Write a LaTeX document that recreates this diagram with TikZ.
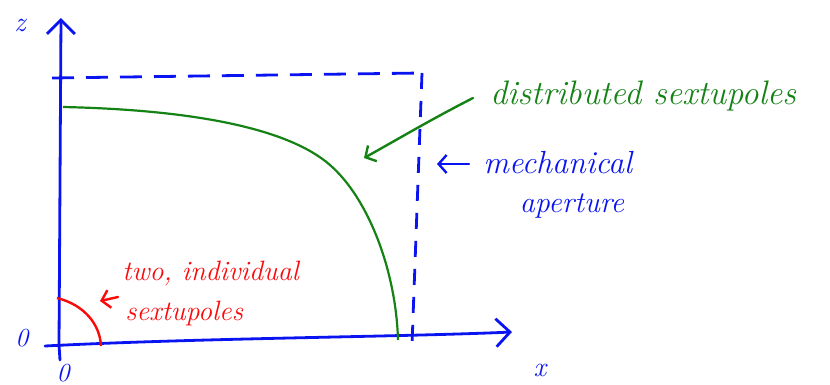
\documentclass[tikz,border=0pt]{standalone}
\usetikzlibrary{arrows.meta}
\definecolor{pblue}{RGB}{10,20,240}
\definecolor{pgreen}{RGB}{20,130,20}
\definecolor{pred}{RGB}{250,10,10}
\begin{document}
\begin{tikzpicture}[x=0.5pt,y=-0.5pt,
  axis/.style={pblue,line width=1.4pt,line cap=round,-{Straight Barb[length=7pt,width=14pt,line width=1.4pt]}},
  dashline/.style={pblue,line width=1.4pt,dash pattern=on 11pt off 6pt},
  hand/.style={font=\itshape\fontsize{#1}{#1}\selectfont,inner sep=0pt},
  pointer/.style={line width=1.2pt,line cap=round,-{Straight Barb[length=4pt,width=9pt,line width=1.2pt]}}]
\useasboundingbox (0,0) rectangle (830,385);
% axes
\coordinate (O) at (59,345);
\coordinate (ztip) at (61,18);
\coordinate (xstart) at (45,346);
\coordinate (xtip) at (512,332);
\draw[axis] (O) -- (ztip);
\draw[axis] (xstart) .. controls (200,338) and (400,337) .. (xtip);
\draw[pblue,line width=1.4pt,line cap=round] (O) -- (60,360);
\node[hand=14,pblue] (zlab) at (20,25) {z};
\node[hand=14,pblue] (xlab) at (540,370) {x};
\node[hand=13,pblue] (o1) at (22,338) {0};
\node[hand=13,pblue] (o2) at (63,373) {0};
% mechanical aperture
\coordinate (a1) at (52,78);
\coordinate (a2) at (422,73);
\coordinate (a3) at (412,345);
\draw[dashline] (a1) -- (a2);
\draw[dashline,dash pattern=on 8pt off 6pt] (a2) -- (a3);
% distributed sextupoles curve
\coordinate (g0) at (63,107);
\coordinate (g1) at (330,165);
\coordinate (g2) at (398,340);
\draw[pgreen,line width=1.1pt] (g0) .. controls (200,110) and (290,130) .. (g1)
  .. controls (368,198) and (396,270) .. (g2);
% individual sextupoles
\coordinate (r0) at (57,298);
\coordinate (r1) at (101,346);
\draw[pred,line width=1.2pt] (r0) .. controls (85,305) and (100,325) .. (r1);
% labels
\node[hand=17,pgreen,anchor=west] (dist) at (490,96) {distributed sextupoles};
\coordinate (gtip) at (364,158);
\draw[pointer,pgreen] (473,98) .. controls (430,120) and (400,138) .. (gtip);
\node[hand=16,pblue,anchor=west] (mech) at (483,163) {mechanical};
\node[hand=15,pblue] (aper) at (572,206) {aperture};
\coordinate (btip) at (437,164);
\draw[pointer,pblue] (mech.west) ++(-14,1) -- (btip);
\node[hand=14,pred,anchor=west] (two) at (122,273) {two, individual};
\node[hand=14,pred,anchor=west] (sext) at (125,313) {sextupoles};
\coordinate (rtip) at (100,301);
\draw[pointer,pred] (118,297) -- (rtip);
\end{tikzpicture}
\end{document}
